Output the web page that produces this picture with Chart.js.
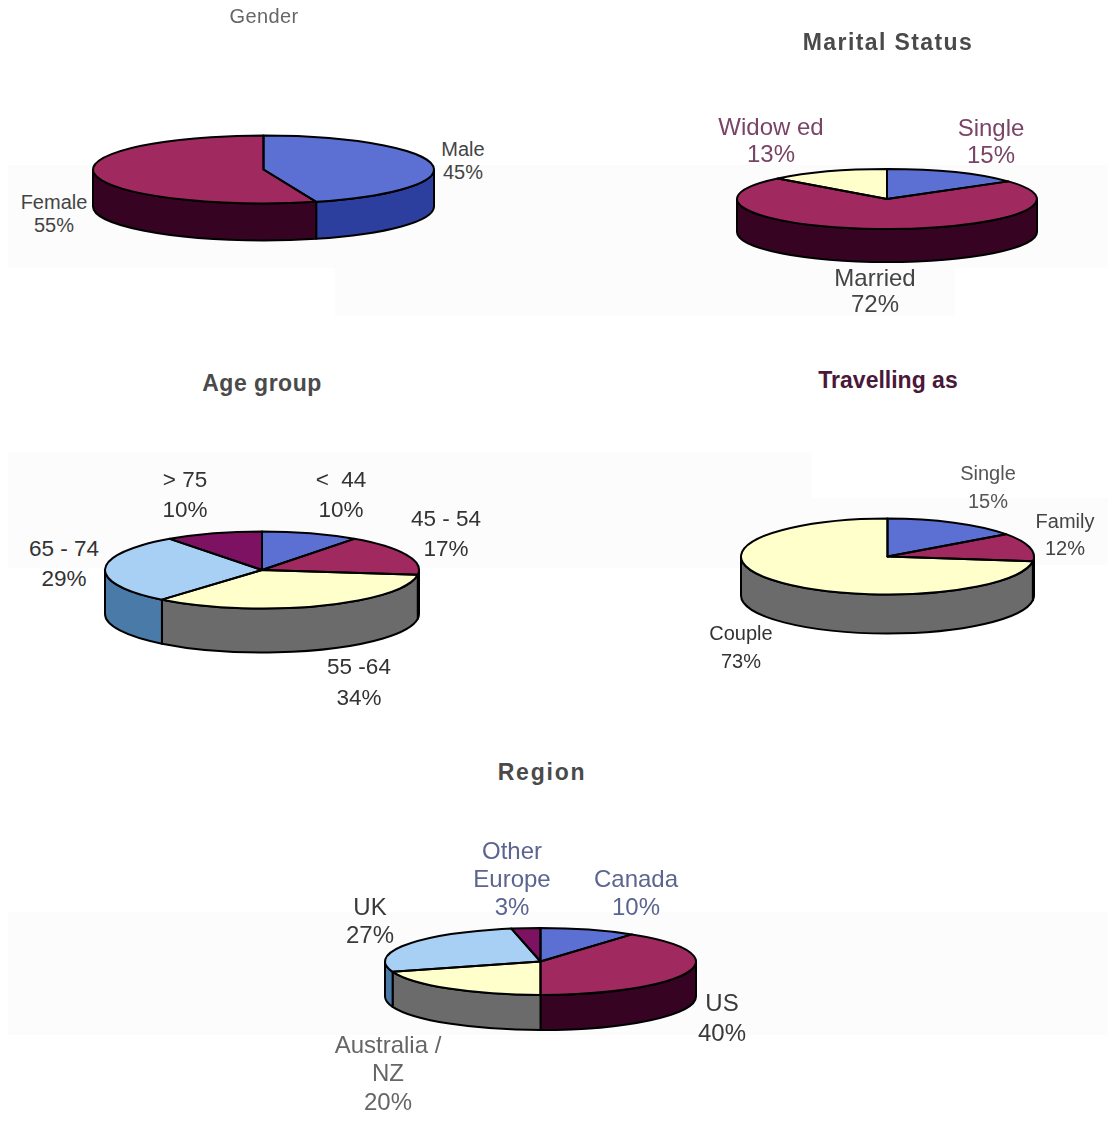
<!DOCTYPE html>
<html>
<head>
<meta charset="utf-8">
<title>Passenger profile</title>
<script src="https://cdn.jsdelivr.net/npm/chart.js@4"></script>
<style>
  html, body { margin: 0; padding: 0; background: #fff; }
  #page { position: relative; width: 1108px; height: 1125px; overflow: hidden; font-family: "Liberation Sans", Arial, sans-serif; }
  #page canvas { position: absolute; }
  .band { position: absolute; background: #fcfcfc; }
  .txt { position: absolute; transform: translateX(-50%); text-align: center; white-space: pre; }
  .title { font-weight: bold; }
</style>
</head>
<body>
<div id="page"></div>
<script>
const genderLabels = ["Male", "Female"];
const genderValues = [45, 55];

const maritalLabels = ["Single", "Married", "Widow ed"];
const maritalValues = [15, 72, 13];

const ageLabels = ["<  44", "45 - 54", "55 -64", "65 - 74", "> 75"];
const ageValues = [10, 17, 34, 29, 10];

const travelLabels = ["Single", "Family", "Couple"];
const travelValues = [15, 12, 73];

const regionLabels = ["Canada", "US", "Australia /\nNZ", "UK", "Other\nEurope"];
const regionValues = [10, 40, 20, 27, 3];

// slice tops and their darker side walls, same order
const topColors = ["#5b70d2", "#a02a60", "#ffffcc", "#a8d0f4", "#7d1262"];
const wallColors = ["#2c3e9e", "#360322", "#6b6b6b", "#4a7aa8", "#360322"];

const page = document.getElementById("page");

// squashes the pie into an ellipse and extrudes a wall under the front half
const tiltPlugin = {
  id: "tilt",
  beforeDatasetsDraw(chart, args, opts) {
    const ctx = chart.ctx;
    const arcs = chart.getDatasetMeta(0).data;
    const k = opts.squash;
    ctx.save();
    ctx.lineWidth = 2;
    ctx.strokeStyle = "#000";
    ctx.lineJoin = "round";
    arcs.forEach((arc, i) => {
      const a0 = Math.max(arc.startAngle, 0);
      const a1 = Math.min(arc.endAngle, Math.PI);
      if (a1 <= a0) return;
      const r = arc.outerRadius;
      ctx.beginPath();
      ctx.ellipse(arc.x, arc.y, r, r * k, 0, a0, a1);
      ctx.ellipse(arc.x, arc.y + opts.depth, r, r * k, 0, a1, a0, true);
      ctx.closePath();
      ctx.fillStyle = wallColors[i];
      ctx.fill();
      ctx.stroke();
    });
    ctx.restore();

    const cy = arcs[0].y;
    ctx.save();
    ctx.translate(0, cy);
    ctx.scale(1, k);
    ctx.translate(0, -cy);
  },
  afterDatasetsDraw(chart, args, opts) {
    const ctx = chart.ctx;
    ctx.restore();
    // outlines go on afterwards so the line width is not squashed too
    ctx.save();
    ctx.lineWidth = 2;
    ctx.strokeStyle = "#000";
    ctx.lineJoin = "round";
    chart.getDatasetMeta(0).data.forEach((arc) => {
      const r = arc.outerRadius;
      ctx.beginPath();
      ctx.moveTo(arc.x, arc.y);
      ctx.ellipse(arc.x, arc.y, r, r * opts.squash, 0, arc.startAngle, arc.endAngle);
      ctx.closePath();
      ctx.stroke();
    });
    ctx.restore();
  },
};

function addPie(labels, values, cx, cy, rx, ry, depth) {
  const pad = 4;
  const size = 2 * (rx + pad);
  const canvas = document.createElement("canvas");
  canvas.width = size;
  canvas.height = size;
  canvas.style.left = cx - rx - pad + "px";
  canvas.style.top = cy - rx - pad + "px";
  canvas.style.width = size + "px";
  canvas.style.height = size + "px";
  page.appendChild(canvas);

  new Chart(canvas.getContext("2d"), {
    type: "pie",
    data: {
      labels: labels,
      datasets: [
        {
          data: values,
          backgroundColor: topColors.slice(0, values.length),
          borderWidth: 0,
        },
      ],
    },
    options: {
      responsive: false,
      animation: false,
      events: [],
      layout: { padding: pad },
      plugins: {
        legend: { display: false },
        tooltip: { enabled: false },
        tilt: { squash: ry / rx, depth: depth },
      },
    },
    plugins: [tiltPlugin],
  });
}

function addBand(x, y, w, h) {
  const d = document.createElement("div");
  d.className = "band";
  d.style.cssText = `left:${x}px;top:${y}px;width:${w}px;height:${h}px`;
  page.appendChild(d);
}

// x, y = centre of the first line
function addText(text, x, y, size, lineHeight, color, extra) {
  const d = document.createElement("div");
  d.className = "txt " + (extra && extra.bold ? "title" : "");
  d.textContent = text;
  d.style.left = x + "px";
  d.style.top = y - lineHeight / 2 + "px";
  d.style.fontSize = size + "px";
  d.style.lineHeight = lineHeight + "px";
  d.style.color = color;
  if (extra && extra.spacing) d.style.letterSpacing = extra.spacing + "px";
  page.appendChild(d);
}

function sliceText(labels, values, i, x, y, size, lineHeight, color) {
  addText(labels[i] + "\n" + values[i] + "%", x, y, size, lineHeight, color);
}

addBand(8, 165, 1100, 103);
addBand(335, 268, 620, 48);
addBand(8, 452, 804, 116);
addBand(812, 498, 296, 67);
addBand(8, 912, 1100, 123);

addPie(genderLabels, genderValues, 263.5, 169, 170.5, 34, 37);
addPie(maritalLabels, maritalValues, 887, 199, 150, 30, 33);
addPie(ageLabels, ageValues, 262, 569.5, 157, 38.5, 44);
addPie(travelLabels, travelValues, 887, 556, 146.5, 38, 39);
addPie(regionLabels, regionValues, 540, 961.5, 155.5, 33.5, 35);

addText("Gender", 264, 16, 20, 22, "#666", { spacing: 0.4 });
addText("Marital Status", 888, 42, 23, 26, "#4a4a4a", { bold: true, spacing: 1.4 });
addText("Age group", 262, 383, 23, 26, "#4a4a4a", { bold: true, spacing: 0.5 });
addText("Travelling as", 888, 380, 23, 26, "#4a1838", { bold: true });
addText("Region", 542, 772, 23, 26, "#4a4a4a", { bold: true, spacing: 1.8 });

sliceText(genderLabels, genderValues, 0, 463, 149, 20, 23, "#444");
sliceText(genderLabels, genderValues, 1, 54, 202, 20, 23, "#444");

sliceText(maritalLabels, maritalValues, 0, 991, 127, 24, 27, "#7a4466");
sliceText(maritalLabels, maritalValues, 1, 875, 278, 24, 26, "#444");
sliceText(maritalLabels, maritalValues, 2, 771, 126, 24, 27, "#7a4466");

sliceText(ageLabels, ageValues, 0, 341, 480, 22.5, 30, "#333");
sliceText(ageLabels, ageValues, 1, 446, 519, 22.5, 30, "#333");
sliceText(ageLabels, ageValues, 2, 359, 666, 22.5, 31, "#333");
sliceText(ageLabels, ageValues, 3, 64, 549, 22.5, 30, "#333");
sliceText(ageLabels, ageValues, 4, 185, 480, 22.5, 30, "#333");

sliceText(travelLabels, travelValues, 0, 988, 473, 20, 28, "#555");
sliceText(travelLabels, travelValues, 1, 1065, 521, 20, 27, "#444");
sliceText(travelLabels, travelValues, 2, 741, 633, 20, 28, "#333");

sliceText(regionLabels, regionValues, 0, 636, 879, 24, 28, "#5c6490");
sliceText(regionLabels, regionValues, 1, 722, 1003, 24, 30, "#3a3a3a");
sliceText(regionLabels, regionValues, 2, 388, 1045, 24, 28.5, "#666");
sliceText(regionLabels, regionValues, 3, 370, 907, 24, 28, "#3a3a3a");
sliceText(regionLabels, regionValues, 4, 512, 851, 24, 28, "#5c6490");
</script>
</body>
</html>
